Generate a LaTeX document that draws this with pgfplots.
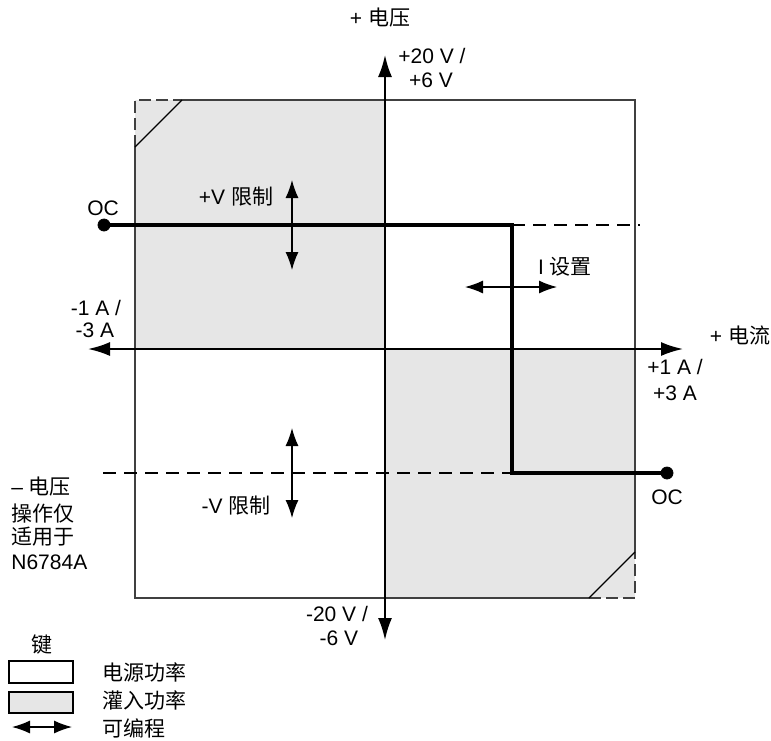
\documentclass[border=0pt]{standalone}
\usepackage{pgfplots}
\pgfplotsset{compat=1.18}
\usepackage{fontspec}
\setmainfont{Liberation Sans}
\newfontfamily\cjk{Noto Sans CJK SC}
\usetikzlibrary{arrows.meta}
\definecolor{sinkgray}{HTML}{E6E6E6}
\definecolor{boxgray}{HTML}{404040}

\begin{document}
\begin{tikzpicture}[
  every node/.style={font=\fontsize{10.5}{12}\selectfont, inner sep=0pt},
  bigarrow/.style={{Latex[length=11pt,width=7pt]}-{Latex[length=11pt,width=7pt]}},
  smallarrow/.style={{Latex[length=9pt,width=6.5pt]}-{Latex[length=9pt,width=6.5pt]}},
]
\begin{axis}[
    name=ax,
    scale only axis,
    width=385.5pt, height=370pt,
    xmin=0, xmax=771,
    ymin=0, ymax=740,
    y dir=reverse,
    hide axis,
    clip=false,
]

% sink power quadrants
\addplot[fill=sinkgray, draw=none] coordinates {(135,100)(385,100)(385,349)(135,349)} -- cycle;
\addplot[fill=sinkgray, draw=none] coordinates {(385,349)(635,349)(635,598)(385,598)} -- cycle;

% outer box
\addplot[boxgray, line width=0.7pt] coordinates {(182,100)(635,100)(635,552)};
\addplot[boxgray, line width=0.7pt] coordinates {(135,147)(135,598)(589,598)};
\addplot[boxgray, line width=0.7pt, dash pattern=on 6pt off 2.5pt] coordinates {(135,147)(135,100)(182,100)};
\addplot[boxgray, line width=0.7pt, dash pattern=on 6pt off 2.5pt] coordinates {(589,598)(635,598)(635,552)};
\addplot[black, line width=0.6pt] coordinates {(182,100)(135,147)};
\addplot[black, line width=0.6pt] coordinates {(635,552)(589,598)};

% axes
\addplot[black, line width=1pt, bigarrow] coordinates {(385,55)(385,640)};
\addplot[black, line width=1pt, bigarrow] coordinates {(88,349)(683,349)};

% limit lines
\addplot[black, line width=0.8pt, dash pattern=on 6.5pt off 4pt] coordinates {(512,225)(640,225)};
\addplot[black, line width=0.8pt, dash pattern=on 6.5pt off 4pt] coordinates {(103,473)(512,473)};

% operating characteristic
\addplot[black, line width=1.8pt] coordinates {(104,225)(512,225)(512,473)(667,473)};
\addplot[black, only marks, mark=*, mark size=3pt] coordinates {(104,225)(667,473)};

% programmable arrows
\addplot[black, line width=0.6pt, smallarrow] coordinates {(292,180)(292,270)};
\addplot[black, line width=0.6pt, smallarrow] coordinates {(292,428)(292,518)};
\addplot[black, line width=0.6pt, smallarrow] coordinates {(465,287)(557,287)};

% key
\addplot[draw=black, fill=white, line width=0.6pt] coordinates {(9,661)(73,661)(73,683)(9,683)} -- cycle;
\addplot[draw=black, fill=sinkgray, line width=0.6pt] coordinates {(9,692)(73,692)(73,713)(9,713)} -- cycle;
\addplot[black, line width=0.6pt, smallarrow] coordinates {(12,727)(72,727)};

% labels
\node at (axis cs:380,18) {+ {\cjk 电压}};
\node at (axis cs:432,56) {+20 V /};
\node at (axis cs:431,80) {+6 V};
\node at (axis cs:103,208) {OC};
\node at (axis cs:236,197) {+V {\cjk 限制}};
\node at (axis cs:565,267) {I {\cjk 设置}};
\node at (axis cs:96,308) {-1 A /};
\node at (axis cs:95,330) {-3 A};
\node at (axis cs:740,335) {+ {\cjk 电流}};
\node at (axis cs:675,367) {+1 A /};
\node at (axis cs:675,393) {+3 A};
\node at (axis cs:236,506) {-V {\cjk 限制}};
\node at (axis cs:667,497) {OC};
\node[anchor=west] at (axis cs:11,487) {– {\cjk 电压}};
\node[anchor=west] at (axis cs:11,514) {\cjk 操作仅};
\node[anchor=west] at (axis cs:11,537) {\cjk 适用于};
\node[anchor=west] at (axis cs:11,562) {N6784A};
\node at (axis cs:337,614) {-20 V /};
\node at (axis cs:339,638) {-6 V};
\node at (axis cs:42,645) {\cjk 键};
\node[anchor=west] at (axis cs:102,672) {\cjk 电源功率};
\node[anchor=west] at (axis cs:102,700) {\cjk 灌入功率};
\node[anchor=west] at (axis cs:102,728) {\cjk 可编程};
\end{axis}
\pgfresetboundingbox
\path[use as bounding box] (ax.south west) rectangle (ax.north east);
\end{tikzpicture}
\end{document}
